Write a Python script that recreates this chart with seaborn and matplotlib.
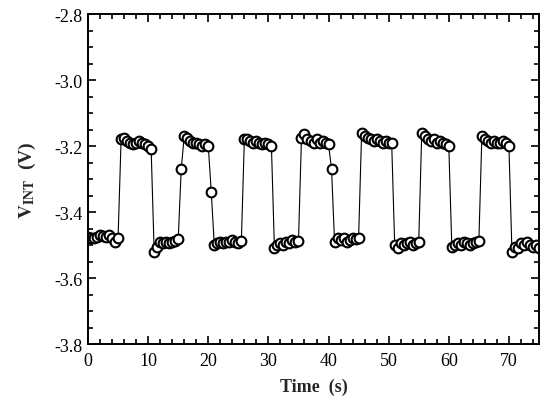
import matplotlib
matplotlib.use("Agg")
import matplotlib.pyplot as plt
from matplotlib.ticker import MultipleLocator
import pandas as pd
import seaborn as sns

# Sample times (s)
time_s = [
    0.0, 0.5, 1.0, 1.5, 2.0, 2.5, 3.0, 3.5, 4.0, 4.5,
    5.0, 5.5, 6.0, 6.5, 7.0, 7.5, 8.0, 8.5, 9.0, 9.5,
    10.0, 10.5, 11.0, 11.5, 12.0, 12.5, 13.0, 13.5, 14.0, 14.5,
    15.0, 15.5, 16.0, 16.5, 17.0, 17.5, 18.0, 18.5, 19.0, 19.5,
    20.0, 20.5, 21.0, 21.5, 22.0, 22.5, 23.0, 23.5, 24.0, 24.5,
    25.0, 25.5, 26.0, 26.5, 27.0, 27.5, 28.0, 28.5, 29.0, 29.5,
    30.0, 30.5, 31.0, 31.5, 32.0, 32.5, 33.0, 33.5, 34.0, 34.5,
    35.0, 35.5, 36.0, 36.5, 37.0, 37.5, 38.0, 38.5, 39.0, 39.5,
    40.0, 40.5, 41.0, 41.5, 42.0, 42.5, 43.0, 43.5, 44.0, 44.5,
    45.0, 45.5, 46.0, 46.5, 47.0, 47.5, 48.0, 48.5, 49.0, 49.5,
    50.0, 50.5, 51.0, 51.5, 52.0, 52.5, 53.0, 53.5, 54.0, 54.5,
    55.0, 55.5, 56.0, 56.5, 57.0, 57.5, 58.0, 58.5, 59.0, 59.5,
    60.0, 60.5, 61.0, 61.5, 62.0, 62.5, 63.0, 63.5, 64.0, 64.5,
    65.0, 65.5, 66.0, 66.5, 67.0, 67.5, 68.0, 68.5, 69.0, 69.5,
    70.0, 70.5, 71.0, 71.5, 72.0, 72.5, 73.0, 73.5, 74.0, 74.5,
    75.0,
]

# Integrator output voltage (V), listed segment by segment
low_0 = [-3.475, -3.480, -3.478, -3.475, -3.470, -3.472, -3.475, -3.470, -3.480, -3.490, -3.478]
high_1 = [-3.180, -3.175, -3.185, -3.190, -3.195, -3.190, -3.185, -3.190, -3.195, -3.200, -3.210]
low_1 = [-3.520, -3.505, -3.490, -3.495, -3.490, -3.495, -3.490, -3.488, -3.482]
edge_1 = [-3.270]
high_2 = [-3.170, -3.175, -3.185, -3.190, -3.190, -3.195, -3.200, -3.195, -3.200]
edge_2 = [-3.340]
low_2 = [-3.500, -3.495, -3.490, -3.495, -3.490, -3.490, -3.485, -3.490, -3.495, -3.488]
high_3 = [-3.180, -3.180, -3.185, -3.190, -3.185, -3.190, -3.195, -3.190, -3.195, -3.200]
low_3 = [-3.510, -3.500, -3.495, -3.500, -3.490, -3.495, -3.485, -3.490, -3.488]
high_4 = [-3.175, -3.165, -3.180, -3.185, -3.190, -3.180, -3.190, -3.185, -3.190, -3.195]
edge_4 = [-3.270]
low_4 = [-3.490, -3.480, -3.485, -3.480, -3.490, -3.485, -3.480, -3.482, -3.478]
high_5 = [-3.160, -3.170, -3.175, -3.180, -3.185, -3.180, -3.185, -3.190, -3.185, -3.190, -3.190]
low_5 = [-3.500, -3.510, -3.495, -3.500, -3.495, -3.490, -3.500, -3.495, -3.490]
high_6 = [-3.160, -3.170, -3.180, -3.185, -3.180, -3.190, -3.185, -3.190, -3.195, -3.200]
low_6 = [-3.505, -3.500, -3.495, -3.500, -3.490, -3.495, -3.500, -3.495, -3.490, -3.488]
high_7 = [-3.170, -3.180, -3.185, -3.190, -3.185, -3.190, -3.190, -3.185, -3.190, -3.200]
low_7 = [-3.520, -3.505, -3.510, -3.495, -3.500, -3.490, -3.500, -3.505, -3.500, -3.510]

v_int = (low_0 + high_1 + low_1 + edge_1 + high_2 + edge_2 + low_2 + high_3
         + low_3 + high_4 + edge_4 + low_4 + high_5 + low_5 + high_6
         + low_6 + high_7 + low_7)

df = pd.DataFrame({"Time (s)": time_s, "V_INT (V)": v_int})

sns.set_theme(style="ticks")
plt.rcParams["font.family"] = ["Liberation Serif", "DejaVu Serif"]
plt.rcParams["mathtext.fontset"] = "stix"
plt.rcParams["axes.unicode_minus"] = False

fig = plt.figure(figsize=(5.44, 4.06), dpi=100)
ax = fig.add_axes([0.1618, 0.1502, 0.829, 0.8128])

sns.lineplot(
    data=df, x="Time (s)", y="V_INT (V)", ax=ax,
    estimator=None, sort=False, color="black", linewidth=0.8,
    marker="o", markersize=7.0, markerfacecolor="white",
    markeredgecolor="black", markeredgewidth=1.5,
)

ax.set_xlim(0, 75)
ax.set_ylim(-3.8, -2.8)
ax.xaxis.set_major_locator(MultipleLocator(10))
ax.xaxis.set_minor_locator(MultipleLocator(2))
ax.yaxis.set_major_locator(MultipleLocator(0.2))
ax.yaxis.set_minor_locator(MultipleLocator(0.05))
ax.yaxis.set_major_formatter(plt.FormatStrFormatter("%.1f"))

for side in ax.spines.values():
    side.set_linewidth(1.4)
    side.set_color("black")
ax.tick_params(which="both", direction="in", top=True, right=True,
               color="black", width=1.2)
ax.tick_params(which="major", length=6, labelsize=13, labelcolor="black")
ax.tick_params(axis="x", which="major", pad=6)
ax.tick_params(axis="y", which="major", pad=4)
ax.tick_params(which="minor", length=3.5)

ax.set_xlabel("Time  (s)", fontsize=13, fontweight="bold", labelpad=6)
ax.set_ylabel(r"$\mathbf{V}_{\mathbf{INT}}$  (V)", fontsize=14,
              fontweight="bold", labelpad=12)

fig.savefig("out.png", dpi=100)
